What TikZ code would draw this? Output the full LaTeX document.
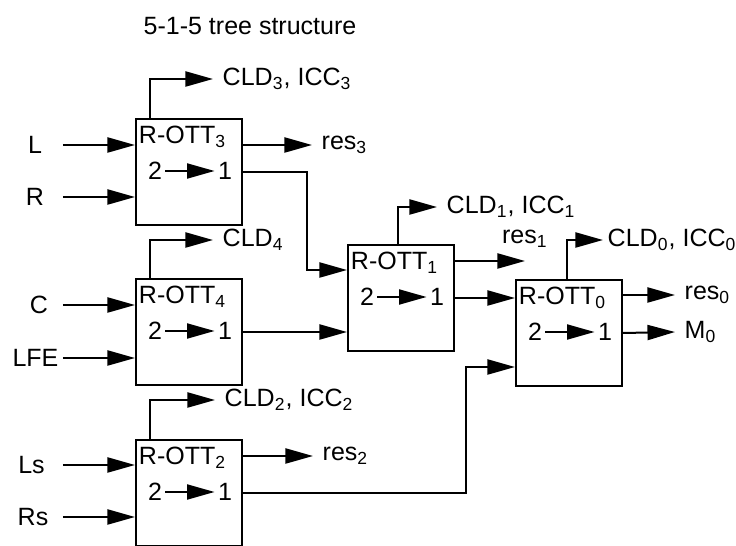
\documentclass[tikz,border=0pt]{standalone}
\usepackage{fontspec}
\setmainfont{Liberation Sans}
\usepackage{tikz}
\usetikzlibrary{arrows.meta,positioning,calc}
\newcommand{\lo}[1]{\textsubscript{#1}}

\begin{document}
\begin{tikzpicture}[
    x=0.4pt, y=-0.4pt,
    line width=0.8pt,
    font=\fontsize{10}{12}\selectfont,
    ott/.style={
        rectangle, draw, anchor=north west, inner sep=0pt,
        minimum width=42.4pt, minimum height=42.4pt
    },
    ottname/.style={anchor=north west, inner xsep=1.2pt, inner ysep=3pt},
    digit/.style={inner sep=1pt},
    lbl/.style={anchor=west, inner xsep=3.5pt, inner ysep=1pt},
    inp/.style={inner sep=1pt},
    arrow/.style={-{Triangle[length=11pt, width=6pt]}}
]
\useasboundingbox (0,0) rectangle (736,546);

% タイトル
\node (title) at (250,26) {5-1-5 tree structure};

% R-OTT ボックス
\node[ott] (ott3) at (135,118) {};
\node[ott] (ott4) at (135,278) {};
\node[ott] (ott2) at (135,439) {};
\node[ott] (ott1) at (347,244) {};
\node[ott] (ott0) at (515,279) {};

\foreach \b/\i in {ott3/3, ott4/4, ott2/2, ott1/1, ott0/0} {
    \node[ottname] (\b-name) at (\b.north west) {R-OTT\lo{\i}};
    \node[digit] (\b-two) at ($(\b.north west)+(20,53)$) {2};
    \node[digit] (\b-one) at ($(\b.north west)+(90,53)$) {1};
    \draw[arrow] (\b-two) -- (\b-one);
}

% 入力チャンネル
\coordinate (instart) at (63,0);
\node[inp] (L) at (35,145) {L};
\node[inp] (R) at (35,197) {R};
\node[inp] (C) at (39,305) {C};
\node[inp] (LFE) at (35.5,358) {LFE};
\node[inp] (Ls) at (31.5,465) {Ls};
\node[inp] (Rs) at (33,517) {Rs};
\foreach \n/\b in {L/ott3, R/ott3, C/ott4, LFE/ott4, Ls/ott2, Rs/ott2}
    \draw[arrow] (\n -| instart) -- (\n -| \b.west);

% パラメータと残差
\node[lbl] (cld3) at (213,79) {CLD\lo3, ICC\lo3};
\node[lbl] (res3) at (312,145) {res\lo3};
\node[lbl] (cld4) at (213,240) {CLD\lo4};
\node[lbl] (cld2) at (215,400) {CLD\lo2, ICC\lo2};
\node[lbl] (res2) at (313,456) {res\lo2};
\node[lbl] (cld1) at (437,207) {CLD\lo1, ICC\lo1};
\coordinate (res1tip) at (525,261);
\node[above=3pt of res1tip, inner sep=2pt] (res1) {res\lo1};
\node[lbl, inner xsep=1.5pt] (cld0) at (603,240) {CLD\lo0, ICC\lo0};
\node[lbl] (res0) at (675,295) {res\lo0};
\node[lbl] (m0) at (675,332) {M\lo0};

\foreach \b/\dx/\c in {ott3/15/cld3, ott4/15/cld4, ott2/15/cld2, ott1/51/cld1, ott0/52/cld0}
    \draw[arrow] ($(\b.north west)+(\dx,0)$) |- (\c.west);
\foreach \b/\r in {ott3/res3, ott2/res2, ott0/res0}
    \draw[arrow] (\r.west -| \b.east) -- (\r.west);
\draw[arrow] (res1tip -| ott1.east) -- (res1tip);

% ツリーの接続
\coordinate (ott1in) at ($(ott1.north west)+(0,26)$);
\coordinate (ott0in) at ($(ott0.north west)+(0,88)$);
\draw[arrow] (ott3.east) -- ++(64,0) |- (ott1in);
\draw[arrow] (ott4.east) -- (ott4.east -| ott1.west);
\draw[arrow] (ott1.east) -- (ott1.east -| ott0.west);
\draw[arrow] (ott2.east) -- ++(223,0) |- (ott0in);
\draw[arrow] (ott0.east) -- (m0.west);

\end{tikzpicture}
\end{document}
